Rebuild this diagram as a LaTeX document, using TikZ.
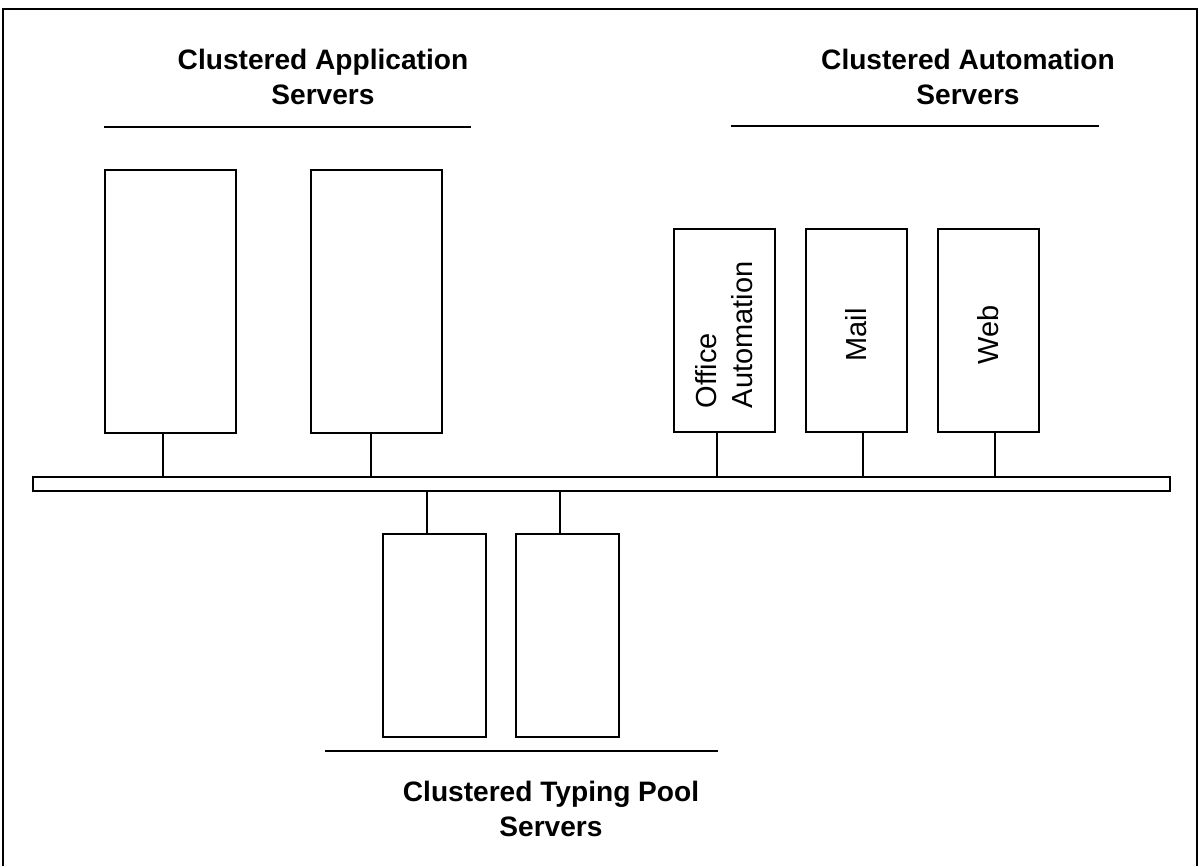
\documentclass[tikz,border=0pt]{standalone}
\usepackage{fontspec}
\setmainfont{Liberation Sans}
\usetikzlibrary{positioning}

\begin{document}
\begin{tikzpicture}[x=0.02cm, y=-0.02cm, line width=1.1pt]
    % Styles
    \tikzset{
        appNode/.style={
                draw,
                rectangle,
                minimum width=2.62cm,
                minimum height=5.26cm
            }
    }
    \tikzset{
        autoNode/.style={
                draw,
                rectangle,
                minimum width=2.02cm,
                minimum height=4.06cm
            }
    }
    \tikzset{
        typingNode/.style={
                draw,
                rectangle,
                minimum width=2.06cm,
                minimum height=4.06cm
            }
    }
    \tikzset{
        busNode/.style={
                draw,
                rectangle,
                minimum width=22.74cm,
                minimum height=0.28cm
            }
    }
    \tikzset{
        labelText/.style={
                yshift=-0.09cm,
                rotate=90,
                align=left,
                font=\fontsize{16.5}{20.5}\selectfont
            }
    }
    \tikzset{
        titleNode/.style={
                align=center,
                font=\bfseries\fontsize{16}{20}\selectfont
            }
    }
    \tikzset{
        ruleLine/.style={
                line width=1.5pt
            }
    }
    \useasboundingbox (0,0) rectangle (1199,866);
    % Frame
    \draw (3,866) |- (1197,9) -- (1197,866);
    % Placing nodes
    \node[busNode](bus) at (601.5,484){};
    \node[appNode](app1) at (170.5,301.5){};
    \node[appNode, right = 1.46cm of app1](app2){};
    \node[autoNode, label={[labelText]center:Office\\Automation}](office) at (724.5,330.5){};
    \node[autoNode, right = 0.58cm of office, label={[labelText]center:Mail}](mail){};
    \node[autoNode, right = 0.58cm of mail, label={[labelText]center:Web}](web){};
    \node[typingNode](typing1) at (434.5,635.5){};
    \node[typingNode, right = 0.56cm of typing1](typing2){};
    \node[titleNode](appTitle) at (323,77){Clustered Application\\Servers};
    \node[titleNode](autoTitle) at (968,77){Clustered Automation\\Servers};
    \node[titleNode](typingTitle) at (551,809){Clustered Typing Pool\\Servers};
    % Title rules
    \draw[ruleLine] (104,127) -- (471,127);
    \draw[ruleLine] (731,126) -- (1099,126);
    \draw[ruleLine] (325,751) -- (718,751);
    % Draw links to the bus
    \draw ([xshift=-0.15cm]app1.south) -- ([xshift=-0.15cm]app1.south |- bus.north);
    \draw ([xshift=-0.11cm]app2.south) -- ([xshift=-0.11cm]app2.south |- bus.north);
    \draw ([xshift=-0.15cm]office.south) -- ([xshift=-0.15cm]office.south |- bus.north);
    \draw ([xshift=0.14cm]mail.south) -- ([xshift=0.14cm]mail.south |- bus.north);
    \draw ([xshift=0.14cm]web.south) -- ([xshift=0.14cm]web.south |- bus.north);
    \draw ([xshift=-0.15cm]typing1.north) -- ([xshift=-0.15cm]typing1.north |- bus.south);
    \draw ([xshift=-0.15cm]typing2.north) -- ([xshift=-0.15cm]typing2.north |- bus.south);
\end{tikzpicture}
\end{document}
